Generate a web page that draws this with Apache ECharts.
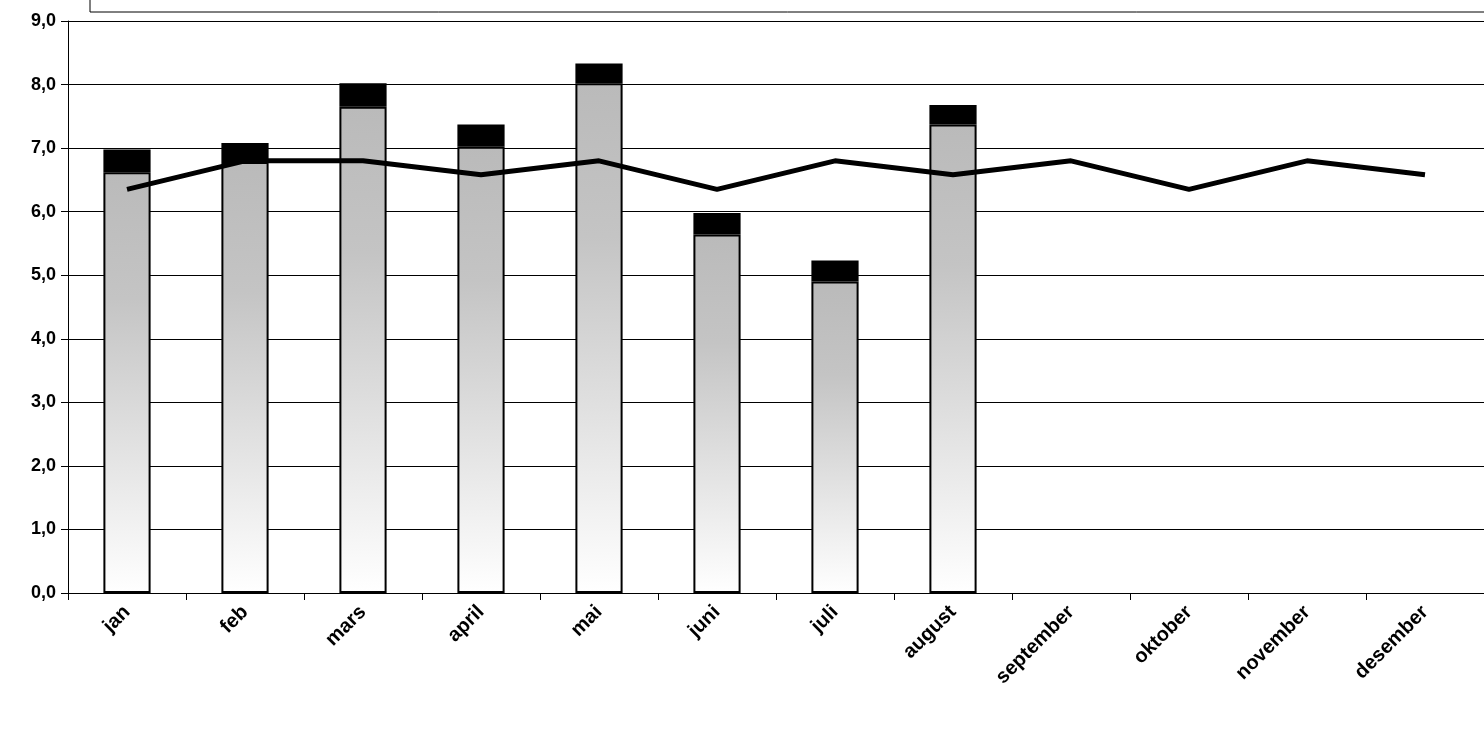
<!DOCTYPE html>
<html><head><meta charset="utf-8">
<script src="https://cdn.jsdelivr.net/npm/echarts@6/dist/echarts.min.js"></script>
<style>html,body{margin:0;padding:0;background:#fff}#c{width:1484px;height:750px}</style>
</head><body><div id="c"></div>
<script>
const months = ["jan","feb","mars","april","mai","juni","juli","august","september","oktober","november","desember"];
const baseValues = [6.62, 6.78, 7.65, 7.02, 8.02, 5.64, 4.9, 7.37];
const topValues = [0.36, 0.30, 0.37, 0.35, 0.31, 0.34, 0.33, 0.31];
const lineValues = [6.35, 6.8, 6.8, 6.58, 6.8, 6.35, 6.8, 6.58, 6.8, 6.35, 6.8, 6.58];

const chart = echarts.init(document.getElementById("c"));
const font = "Liberation Sans, Arial, sans-serif";
chart.setOption({
  animation: false,
  grid: { left: 68, right: 0, top: 21, bottom: 157 },
  graphic: [{ type: "rect", shape: { x: 90, y: -2, width: 1400, height: 14 },
    style: { fill: "none", stroke: "#000", lineWidth: 1 } }],
  xAxis: {
    type: "category", data: months, boundaryGap: true,
    axisLine: { lineStyle: { color: "#000" } },
    axisTick: { show: true, length: 7, lineStyle: { color: "#000" } },
    axisLabel: { rotate: 45, color: "#000", fontWeight: 900, fontSize: 20, fontFamily: font, margin: 16, interval: 0 }
  },
  yAxis: {
    type: "value", min: 0, max: 9, interval: 1,
    axisLine: { show: true, lineStyle: { color: "#000" } },
    axisTick: { show: true, length: 7, lineStyle: { color: "#000" } },
    splitLine: { lineStyle: { color: "#000", width: 1 } },
    axisLabel: { color: "#000", fontWeight: "bold", fontSize: 18, fontFamily: font, margin: 12,
      formatter: v => v.toFixed(1).replace(".", ",") }
  },
  series: [
    { type: "bar", stack: "s", data: baseValues, barWidth: "40%",
      itemStyle: { borderColor: "#000", borderWidth: 2,
        color: new echarts.graphic.LinearGradient(0, 0, 0, 1, [
          { offset: 0, color: "#bababa" }, { offset: 0.3, color: "#c4c4c4" }, { offset: 1, color: "#ffffff" }]) } },
    { type: "bar", stack: "s", data: topValues, barWidth: "40%",
      itemStyle: { color: "#000", borderColor: "#000", borderWidth: 2 } },
    { type: "line", data: lineValues, symbol: "none", z: 5,
      lineStyle: { color: "#000", width: 5 } }
  ]
});
</script></body></html>
